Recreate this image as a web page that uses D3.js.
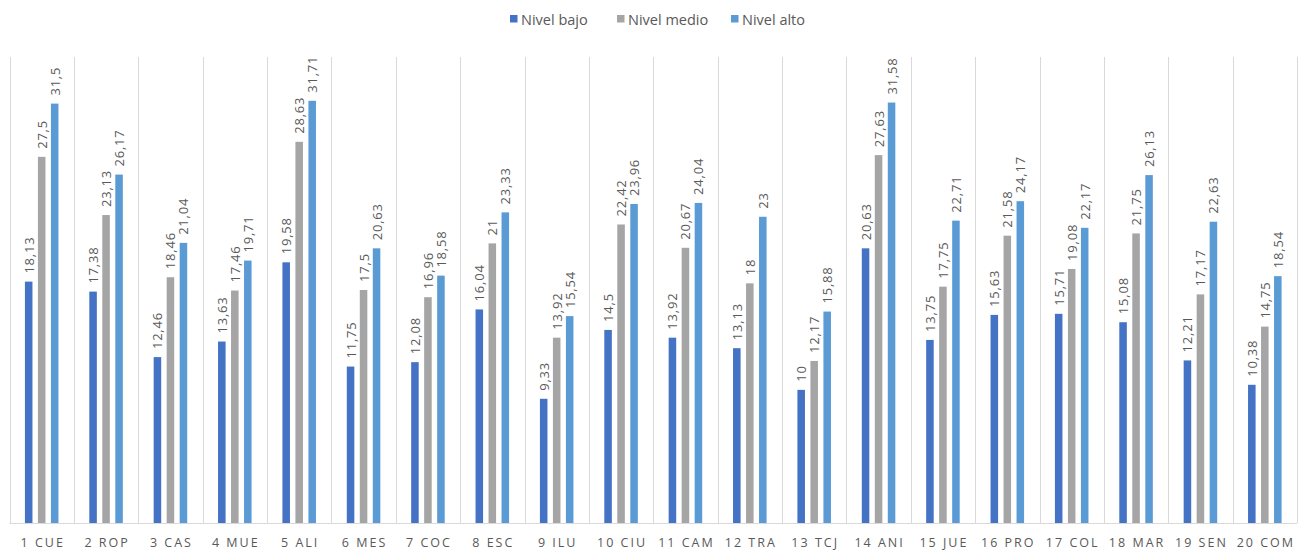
<!DOCTYPE html>
<html>
<head>
<meta charset="utf-8">
<script src="https://cdn.jsdelivr.net/npm/d3@7"></script>
<style>
  html, body { margin: 0; padding: 0; background: #fff; }
  svg { display: block; font-family: "Open Sans", "Liberation Sans", sans-serif; }
</style>
</head>
<body>
<svg id="chart" width="1299" height="552"></svg>
<script>
const categories = ["1 CUE","2 ROP","3 CAS","4 MUE","5 ALI","6 MES","7 COC","8 ESC","9 ILU","10 CIU",
                    "11 CAM","12 TRA","13 TCJ","14 ANI","15 JUE","16 PRO","17 COL","18 MAR","19 SEN","20 COM"];
const seriesNames = ["Nivel bajo","Nivel medio","Nivel alto"];
const nivelBajo  = [18.13,17.38,12.46,13.63,19.58,11.75,12.08,16.04,9.33,14.5,13.92,13.13,10,20.63,13.75,15.63,15.71,15.08,12.21,10.38];
const nivelMedio = [27.5,23.13,18.46,17.46,28.63,17.5,16.96,21,13.92,22.42,20.67,18,12.17,27.63,17.75,21.58,19.08,21.75,17.17,14.75];
const nivelAlto  = [31.5,26.17,21.04,19.71,31.71,20.63,18.58,23.33,15.54,23.96,24.04,23,15.88,31.58,22.71,24.17,22.17,26.13,22.63,18.54];
const colors = ["#4472C4","#A5A5A5","#5B9BD5"];

const seriesValues = [nivelBajo, nivelMedio, nivelAlto];
const rows = [];
categories.forEach((c, i) => seriesNames.forEach((s, j) => rows.push({cat: c, series: s, idx: j, value: seriesValues[j][i]})));

const svg = d3.select("#chart");
const plotLeft = 9.5, plotRight = 1297, plotTop = 57, plotBottom = 523;

const x = d3.scaleBand().domain(categories).range([plotLeft, plotRight]).padding(0);
const x1 = d3.scaleBand().domain(seriesNames).range([-19.5, 19.5]).paddingInner(0.42).paddingOuter(0.21);
const y = d3.scaleLinear().domain([0, 35]).range([plotBottom, plotTop]);

// vertical category separators
const grid = svg.append("g");
const edges = categories.map(c => x(c)).concat([plotRight]);
grid.selectAll("line").data(edges).join("line")
  .attr("x1", d => Math.round(d) + 0.5).attr("x2", d => Math.round(d) + 0.5)
  .attr("y1", plotTop).attr("y2", plotBottom)
  .attr("stroke", "#D9D9D9").attr("stroke-width", 1);

// category axis
const xAxis = svg.append("g").attr("transform", `translate(0,${plotBottom + 0.5})`)
  .call(d3.axisBottom(x).tickSize(0).tickPadding(15));
xAxis.select(".domain").attr("stroke", "#D9D9D9").attr("d", `M${plotLeft},0H${plotRight}`);
xAxis.selectAll("text")
  .attr("fill", "#595959").attr("font-size", 12.5).attr("letter-spacing", "2px")
  .attr("dx", "1px")
  .style("font-family", "'Open Sans', sans-serif");

// bars
const bars = svg.append("g");
bars.selectAll("rect").data(rows).join("rect")
  .attr("x", d => x(d.cat) + x.bandwidth() / 2 + x1(d.series))
  .attr("width", x1.bandwidth())
  .attr("y", d => y(d.value))
  .attr("height", d => y(0) - y(d.value))
  .attr("fill", d => colors[d.idx]);

// value labels
const fmt = v => String(v).replace(".", ",");
svg.append("g").selectAll("text").data(rows).join("text")
  .attr("transform", d => `translate(${x(d.cat) + x.bandwidth() / 2 + x1(d.series) + x1.bandwidth() / 2 + 5},${y(d.value) - 8}) rotate(-90)`)
  .attr("fill", "#595959").attr("font-size", 13).attr("letter-spacing", "0.8px")
  .text(d => fmt(d.value));

// legend
const legendItems = [{name: seriesNames[0], x: 510}, {name: seriesNames[1], x: 617}, {name: seriesNames[2], x: 731}];
const lg = svg.append("g");
legendItems.forEach((it, i) => {
  lg.append("rect").attr("x", it.x).attr("y", 15).attr("width", 7.5).attr("height", 7.5).attr("fill", colors[i]);
  lg.append("text").attr("x", it.x + 11).attr("y", 24.5).attr("fill", "#595959").attr("font-size", 14.5)
    .text(it.name);
});
</script>
</body>
</html>
